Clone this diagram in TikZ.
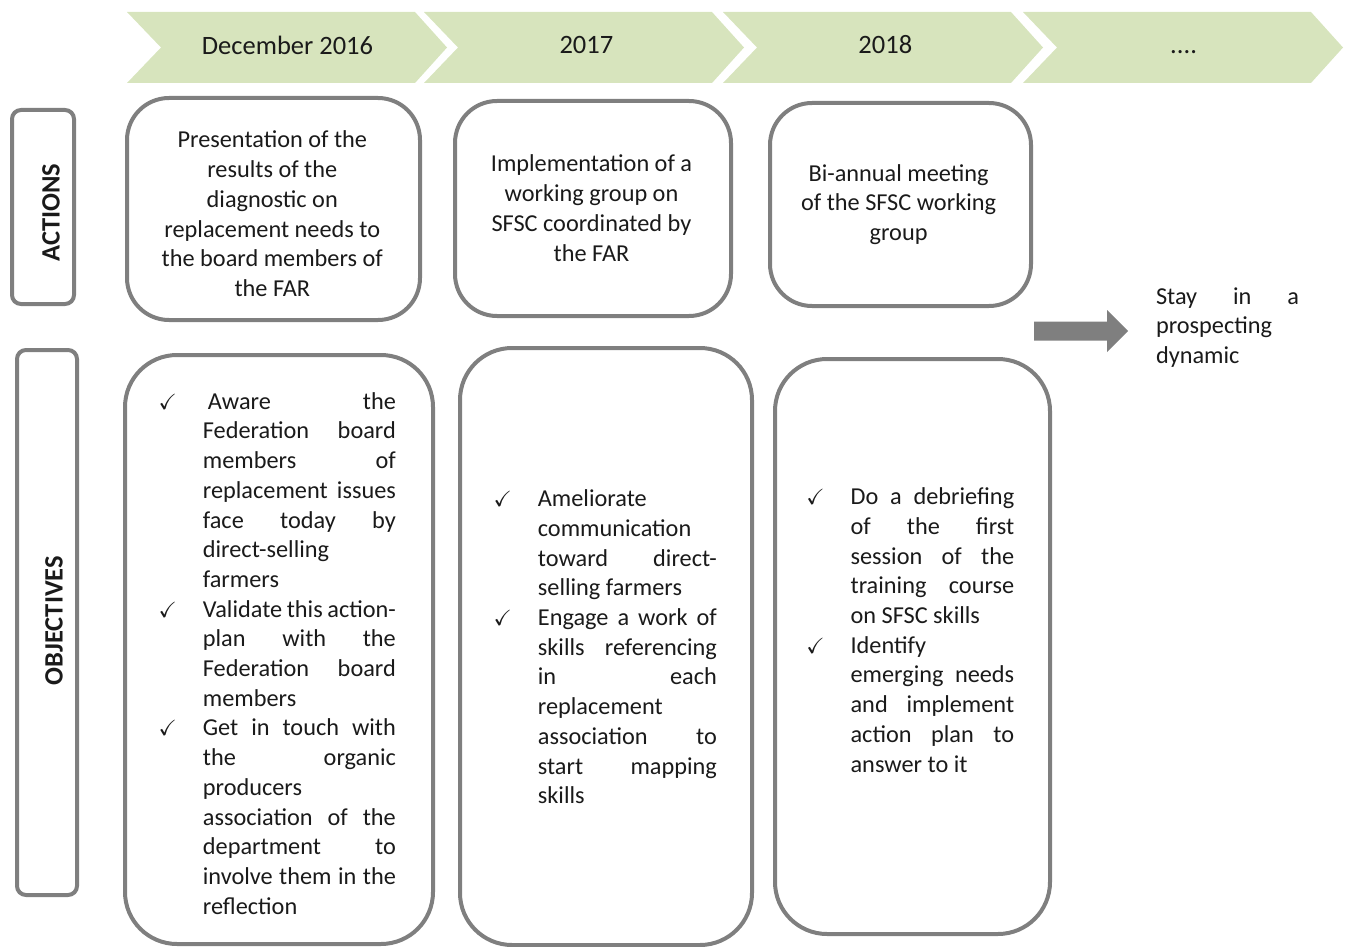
\documentclass[tikz,border=0pt]{standalone}
\usepackage{fontspec}
\usepackage{amssymb}
\setmainfont{Carlito}
\definecolor{chev}{HTML}{D7E4BD}
\definecolor{bord}{HTML}{7F7F7F}
\definecolor{txt}{HTML}{1A1A1A}
\newcommand\strutL{\vrule height19pt depth7pt width0pt\relax}
\newcommand\Lj[1]{\hbox to \hsize{\strutL\spaceskip=.226em plus 1fil minus .12em\relax #1}}
\newcommand\Ll[1]{\hbox to \hsize{\strutL #1\hfill}}
\newcommand\Lc[1]{\hbox to \hsize{\strutL\hfill #1\hfill}}
\newcommand\ckm{\llap{{\fontsize{22}{22}\selectfont$\checkmark$}\hskip26pt}}
\newcommand\tblock[2]{\vbox{\hsize=#1\relax\baselineskip=29.7pt\lineskiplimit=-100pt\relax #2}}
\tikzset{
  body/.style={inner sep=0pt, text=txt, font=\fontsize{24.3}{29.7}\selectfont},
  head/.style={inner sep=0pt, text=txt, font=\fontsize{26.5}{30}\selectfont, anchor=base},
  lab/.style={inner sep=0pt, text=txt, font=\fontsize{26.5}{30}\selectfont\bfseries, rotate=90},
  labbox/.style={draw=bord, line width=4pt, rounded corners=9pt, inner sep=0pt},
  actbox/.style={draw=bord, line width=4pt, rounded corners=42pt, inner sep=0pt},
  objbox/.style={draw=bord, line width=4pt, rounded corners=52pt, inner sep=0pt},
  chevshape/.style={fill=chev, draw=none},
}
\begin{document}
\begin{tikzpicture}[x=1pt,y=-1pt]
\useasboundingbox (0,0) rectangle (1352,947);
% chevrons
\foreach \L in {127,424,723,1023}{
  \path[chevshape] (\L,12) -- (\L+288,12) -- (\L+320,47.5) -- (\L+288,83) -- (\L,83) -- (\L+34,47.5) -- cycle;
}
\node[head] (h1) at (287.5,55) {December 2016};
\node[head] (h2) at (586.4,53.5) {2017};
\node[head] (h3) at (885.3,53.5) {2018};
\node[head] (h4) at (1183.6,53.5) {....};
% side labels
\node[labbox, minimum width=62pt, minimum height=194pt] (la) at (43,207) {};
\node[lab] (lat) at (51,212.5) {ACTIONS};
\node[labbox, minimum width=60pt, minimum height=545pt] (lo) at (47,622.5) {};
\node[lab] (lot) at (54,620.7) {OBJECTIVES};
% action boxes
\node[actbox, minimum width=293pt, minimum height=222pt] (a1) at (273.5,209) {};
\node[actbox, minimum width=276pt, minimum height=215pt] (a2) at (593,208.5) {};
\node[actbox, minimum width=261pt, minimum height=203pt] (a3) at (900.5,204.5) {};
\node[body, anchor=north] (a1t) at (272.3,128.7) {\tblock{260pt}{%
  \Lc{Presentation of the}
  \Lc{results of the}
  \Lc{diagnostic on}
  \Lc{replacement needs to}
  \Lc{the board members of}
  \Lc{the FAR}}};
\node[body, anchor=north] (a2t) at (591.5,152.7) {\tblock{250pt}{%
  \Lc{Implementation of a}
  \Lc{working group on}
  \Lc{SFSC coordinated by}
  \Lc{the FAR}}};
\node[body, anchor=north] (a3t) at (898.6,162) {\tblock{230pt}{%
  \Lc{Bi-annual meeting}
  \Lc{of the SFSC working}
  \Lc{group}}};
% objective boxes
\node[objbox, minimum width=308pt, minimum height=589pt] (o1) at (279,649.5) {};
\node[objbox, minimum width=292pt, minimum height=597pt] (o2) at (606,646.5) {};
\node[objbox, minimum width=275pt, minimum height=575pt] (o3) at (912.5,646.5) {};
\node[body, anchor=north west] (o1t) at (202.7,390) {\tblock{193pt}{%
  \Lj{\ckm\hskip5pt Aware the}
  \Lj{Federation board}
  \Lj{members of}
  \Lj{replacement issues}
  \Lj{face today by}
  \Ll{direct-selling}
  \Ll{farmers}
  \Lj{\ckm Validate this action-}
  \Lj{plan with the}
  \Lj{Federation board}
  \Ll{members}
  \Lj{\ckm Get in touch with}
  \Lj{the organic}
  \Ll{producers}
  \Lj{association of the}
  \Lj{department to}
  \Lj{involve them in the}
  \Ll{reflection}}};
\node[body, anchor=north west] (o2t) at (537.7,487.5) {\tblock{179pt}{%
  \Ll{\ckm Ameliorate}
  \Ll{communication}
  \Lj{toward direct-}
  \Ll{selling farmers}
  \Lj{\ckm Engage a work of}
  \Lj{skills referencing}
  \Lj{in each}
  \Ll{replacement}
  \Lj{association to}
  \Lj{start mapping}
  \Ll{skills}}};
\node[body, anchor=north west] (o3t) at (850.4,485.5) {\tblock{163.6pt}{%
  \Lj{\ckm Do a debriefing}
  \Lj{of the first}
  \Lj{session of the}
  \Lj{training course}
  \Ll{on SFSC skills}
  \Ll{\ckm Identify}
  \Lj{emerging needs}
  \Lj{and implement}
  \Lj{action plan to}
  \Ll{answer to it}}};
% arrow and final text
\coordinate (arrS) at (1034,331);
\coordinate (arrE) at (1128,331);
\fill[bord] (arrS) ++(0,-9.5) -- (1107,321.5) -- (1107,310) -- (arrE) -- (1107,352) -- (1107,340.5) -- (1034,340.5) -- cycle;
\node[body, anchor=north west] (stay) at (1155.8,285) {\tblock{143pt}{%
  \Lj{Stay in a}
  \Ll{prospecting}
  \Ll{dynamic}}};
\end{tikzpicture}
\end{document}
